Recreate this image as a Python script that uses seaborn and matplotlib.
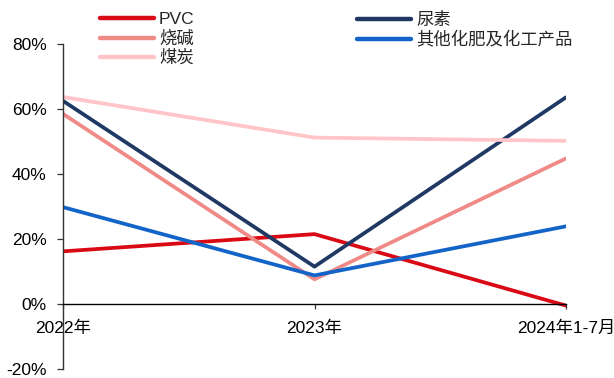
import matplotlib
matplotlib.use("Agg")
import matplotlib.pyplot as plt
from matplotlib.lines import Line2D
from matplotlib.ticker import FuncFormatter
import seaborn as sns
import pandas as pd

years = ["2022年", "2023年", "2024年1-7月"]
series_names = ["PVC", "尿素", "烧碱", "其他化肥及化工产品", "煤炭"]
pvc = [16.2, 21.5, -0.5]
urea = [62.5, 11.5, 63.6]
caustic = [58.5, 7.6, 44.8]
other_chem = [29.8, 8.8, 23.9]
coal = [63.7, 51.2, 50.2]
y_ticks = [-20, 0, 20, 40, 60, 80]

colors = {
    "PVC": "#DA0A14",
    "尿素": "#1F3864",
    "烧碱": "#EF8A87",
    "其他化肥及化工产品": "#1264C8",
    "煤炭": "#FFC5C8",
}

values = [pvc, urea, caustic, other_chem, coal]
rows = []
for name, vals in zip(series_names, values):
    for yr, v in zip(years, vals):
        rows.append({"year": yr, "series": name, "value": v})
df = pd.DataFrame(rows)

sns.set_style("ticks")
plt.rcParams["font.family"] = ["Liberation Sans", "Noto Sans CJK SC"]
plt.rcParams["font.size"] = 12.5

fig = plt.figure(figsize=(6.14, 3.78), dpi=100)
ax = fig.add_axes([63 / 614, 1 - 369 / 378, (566 - 63) / 614, (369 - 44) / 378])

sns.lineplot(data=df, x="year", y="value", hue="series", hue_order=series_names,
             palette=colors, linewidth=2.7, sort=False, legend=False, ax=ax,
             solid_capstyle="round")

ax.set_xlim(0, 2)
ax.set_ylim(-20, 80)
ax.set_yticks(y_ticks)
ax.yaxis.set_major_formatter(FuncFormatter(lambda v, p: f"{v:.0f}%"))
ax.set_xlabel("")
ax.set_ylabel("")

for s in ["top", "right"]:
    ax.spines[s].set_visible(False)
ax.spines["bottom"].set_position(("data", 0))
ax.spines["bottom"].set_color("black")
ax.spines["bottom"].set_linewidth(1.0)
ax.spines["left"].set_color("#333333")
ax.spines["left"].set_linewidth(1.0)
ax.tick_params(axis="y", direction="out", length=4.3, width=0.9, pad=7.5,
               labelsize=12.5, colors="#333333", labelcolor="black")
ax.tick_params(axis="x", direction="out", length=3.6, width=0.9, pad=8.5,
               labelsize=12.5, colors="#333333", labelcolor="black")

def handles(names):
    return [Line2D([0], [0], color=colors[n], linewidth=3.2, solid_capstyle="round") for n in names]

left_names = ["PVC", "烧碱", "煤炭"]
right_names = ["尿素", "其他化肥及化工产品"]
leg_kw = dict(frameon=False, loc="upper left", borderpad=0, borderaxespad=0,
              handlelength=3.1, handletextpad=0.3, labelspacing=0.18, fontsize=12.5)
leg1 = fig.legend(handles(left_names), left_names,
                  bbox_to_anchor=(100 / 614, 1 - 12 / 378), **leg_kw)
leg2 = fig.legend(handles(right_names), right_names,
                  bbox_to_anchor=(357 / 614, 1 - 12 / 378), **leg_kw)

fig.savefig("out.png", dpi=100)
